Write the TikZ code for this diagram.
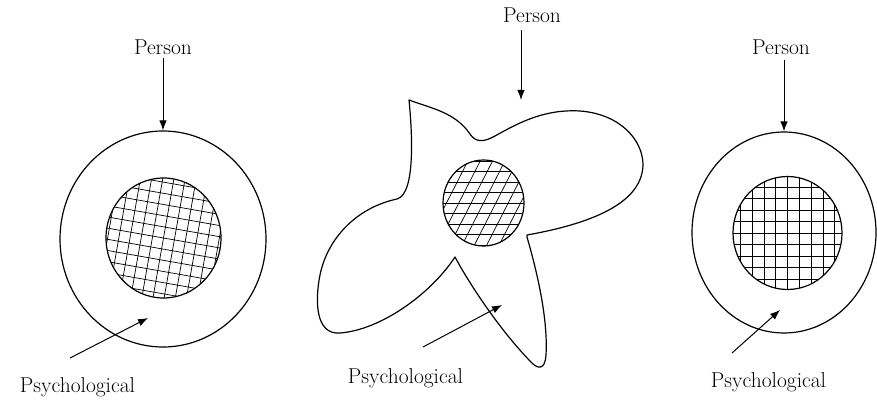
\documentclass[tikz,border=0pt]{standalone}
\usetikzlibrary{shapes.geometric,arrows.meta}
\begin{document}
\begin{tikzpicture}[x=1pt,y=-1pt,
  lbl/.style={font=\rmfamily\fontsize{21.5}{26}\selectfont, text=black, inner sep=0pt, anchor=base},
  ring/.style={draw, ellipse, line width=1.2pt, inner sep=0pt},
  blob/.style={draw, line width=1.2pt, line join=round},
  hatchline/.style={line width=0.7pt},
  arr/.style={line width=1pt, -{Latex[length=10pt,width=7.5pt]}}]
\useasboundingbox (0,0) rectangle (877,403);

% ---------- left figure ----------
\node[ring, minimum width=206pt, minimum height=216pt] (o1) at (163,239) {};
\begin{scope}
  \clip (163.5,238) ellipse [x radius=57.5pt, y radius=60pt];
  \begin{scope}[shift={(163.5,238)}, rotate=-10]
    \foreach \i in {-7,...,7} {
      \draw[hatchline] (\i*11,-80) -- (\i*11,80);
      \draw[hatchline] (-80,\i*11) -- (80,\i*11);
    }
  \end{scope}
\end{scope}
\node[ring, minimum width=115pt, minimum height=120pt] (i1) at (163.5,238) {};
\node[lbl] (p1) at (163,55) {Person};
\coordinate (p1s) at (163,58);
\draw[arr] (p1s) -- (o1.north);
\node[lbl] (q1) at (77.5,392) {Psychological};
\coordinate (q1s) at (70,358);
\coordinate (q1e) at (148,318);
\draw[arr] (q1s) -- (q1e);

% ---------- middle figure ----------
\draw[blob] (409,100)
  .. controls (430,108) and (455,112) .. (470,134)
  .. controls (476,143) and (484,142) .. (495,136)
  .. controls (520,122) and (545,109) .. (580,111)
  .. controls (620,114) and (643,140) .. (643,165)
  .. controls (642,200) and (600,222) .. (527,235)
  -- (527,237)
  .. controls (538,275) and (548,320) .. (546,355)
  .. controls (545,370) and (538,370) .. (530,361)
  .. controls (500,330) and (470,285) .. (455,257)
  .. controls (430,295) and (380,330) .. (340,333)
  .. controls (315,335) and (315,300) .. (320,275)
  .. controls (327,240) and (355,208) .. (397,199)
  .. controls (416,194) and (412,130) .. (409,100) -- cycle;
\begin{scope}
  \clip (483.5,203) ellipse [x radius=40.5pt, y radius=43pt];
  \foreach \i in {-5,...,5} {
    \draw[hatchline] (430,203+\i*10.5) -- (540,203+\i*10.5);
  }
  \begin{scope}[shift={(483.5,203)}, rotate=-27]
    \foreach \i in {-6,...,6} {
      \draw[hatchline] (\i*11,-70) -- (\i*11,70);
    }
  \end{scope}
\end{scope}
\node[ring, minimum width=81pt, minimum height=86pt] (i2) at (483.5,203) {};
\node[lbl] (p2) at (532,23) {Person};
\coordinate (p2s) at (521,30);
\coordinate (p2e) at (521,100);
\draw[arr] (p2s) -- (p2e);
\node[lbl] (q2) at (405.5,383) {Psychological};
\coordinate (q2s) at (423,347);
\coordinate (q2e) at (502,305);
\draw[arr] (q2s) -- (q2e);

% ---------- right figure ----------
\node[ring, minimum width=184pt, minimum height=201pt] (o3) at (784,232.5) {};
\begin{scope}
  \clip (787.5,233) ellipse [x radius=54.5pt, y radius=56.5pt];
  \foreach \i in {-5,...,5} {
    \draw[hatchline] (787.5+\i*11.8,170) -- (787.5+\i*11.8,296);
    \draw[hatchline] (730,233+\i*11.5) -- (845,233+\i*11.5);
  }
\end{scope}
\node[ring, minimum width=109pt, minimum height=113pt] (i3) at (787.5,233) {};
\node[lbl] (p3) at (781,55) {Person};
\coordinate (p3s) at (784,60);
\draw[arr] (p3s) -- (o3.north);
\node[lbl] (q3) at (768.5,387) {Psychological};
\coordinate (q3s) at (732,353);
\coordinate (q3e) at (780,310);
\draw[arr] (q3s) -- (q3e);
\end{tikzpicture}
\end{document}
